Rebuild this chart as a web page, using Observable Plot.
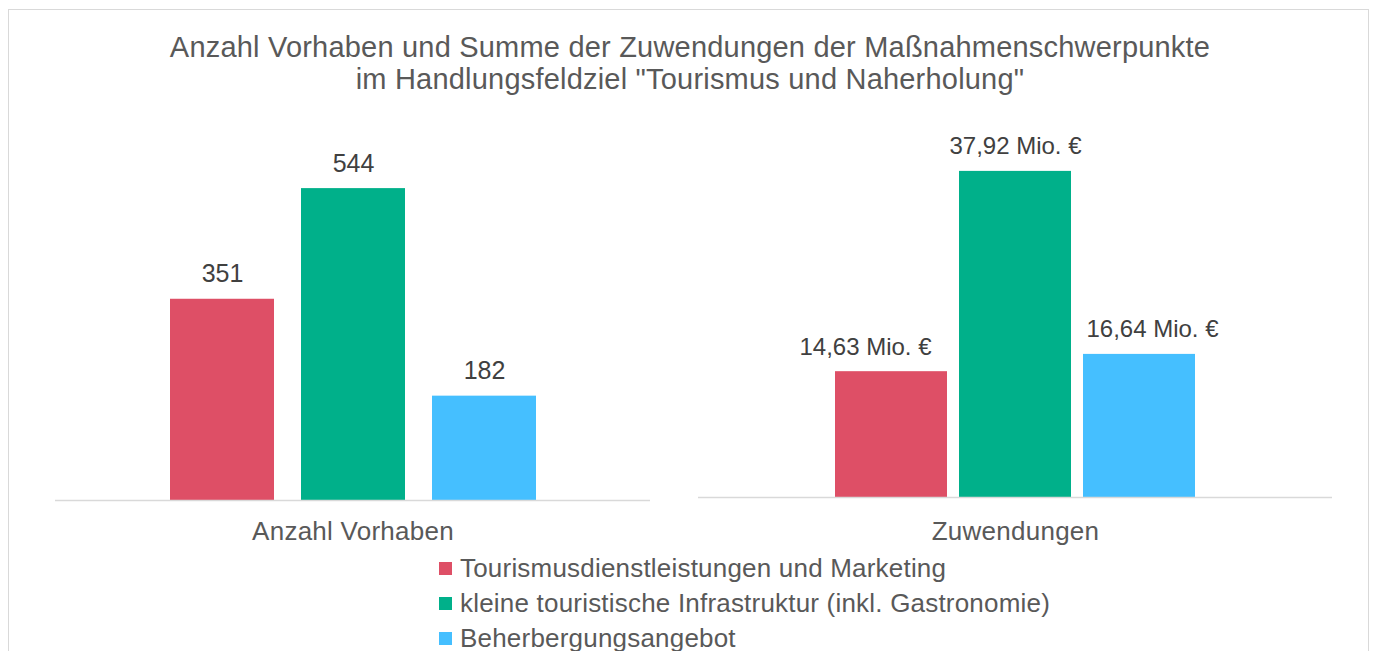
<!DOCTYPE html>
<html><head><meta charset="utf-8">
<script src="https://cdn.jsdelivr.net/npm/d3@7"></script>
<script src="https://cdn.jsdelivr.net/npm/@observablehq/plot@0.6"></script>
<style>
html,body{margin:0;padding:0;background:#fff;width:1376px;height:651px;overflow:hidden;font-family:"Liberation Sans",Arial,sans-serif;}
#frame{position:absolute;left:8px;top:9px;width:1361px;height:700px;border:1px solid #d9d9d9;box-sizing:border-box;}
#title{position:absolute;left:2px;top:31px;width:1376px;text-align:center;font-size:29px;line-height:32px;color:#595959;letter-spacing:0.2px;}
.panel{position:absolute;top:0;}
.legend-item{position:absolute;left:439px;height:35px;display:flex;align-items:center;font-size:26px;color:#595959;letter-spacing:0.2px;white-space:nowrap;}
.legend-item .sw{width:13px;height:13px;margin-right:8px;flex:none;}
</style>
</head><body>
<div id="frame"></div>
<div id="title">Anzahl Vorhaben und Summe der Zuwendungen der Maßnahmenschwerpunkte<br>im Handlungsfeldziel "Tourismus und Naherholung"</div>
<div id="left" class="panel" style="left:0px"></div>
<div id="right" class="panel" style="left:688px"></div>
<div id="legend"></div>
<script>
const series = ["Tourismusdienstleistungen und Marketing", "kleine touristische Infrastruktur (inkl. Gastronomie)", "Beherbergungsangebot"];
const colors = ["#de4f66", "#00b08a", "#45bfff"];
const panels = ["Anzahl Vorhaben", "Zuwendungen"];
const vorhaben = [351, 544, 182];
const zuwendungen = [14.63, 37.92, 16.64];

const dataL = series.map((s, i) => ({series: s, value: vorhaben[i]}));
const dataR = series.map((s, i) => ({series: s, value: zuwendungen[i]}));
const fmtEuro = v => v.toLocaleString("de-DE", {minimumFractionDigits: 2, maximumFractionDigits: 2}) + " Mio. €";

const baseStyle = {background: "transparent", fontFamily: "'Liberation Sans', Arial, sans-serif", overflow: "visible"};

const left = Plot.plot({
  width: 688, height: 560,
  marginLeft: 55, marginRight: 38, marginTop: 156, marginBottom: 60,
  x: {domain: series, axis: null, paddingInner: 0.209, paddingOuter: 0.867},
  y: {domain: [0, 600], axis: null},
  color: {domain: series, range: colors},
  style: baseStyle,
  marks: [
    Plot.barY(dataL, {x: "series", y: "value", fill: "series"}),
    Plot.ruleY([0], {stroke: "#d9d9d9", strokeWidth: 1.5}),
    Plot.text(dataL, {x: "series", y: "value", text: d => String(d.value), lineAnchor: "bottom", dy: -17, fill: "#404040", fontSize: 25}),
    Plot.text([panels[0]], {frameAnchor: "bottom", lineAnchor: "bottom", dy: 39, text: d => d, fill: "#595959", fontSize: 26})
  ]
});

const right = Plot.plot({
  width: 688, height: 560,
  marginLeft: 10, marginRight: 44, marginTop: 153, marginBottom: 63,
  x: {domain: series, axis: null, paddingInner: 0.1, paddingOuter: 1.096},
  y: {domain: [0, 40], axis: null},
  color: {domain: series, range: colors},
  style: baseStyle,
  marks: [
    Plot.barY(dataR, {x: "series", y: "value", fill: "series"}),
    Plot.ruleY([0], {stroke: "#d9d9d9", strokeWidth: 1.5}),
    Plot.text(dataR, {filter: d => d.series === series[0], x: "series", y: "value", text: d => fmtEuro(d.value), lineAnchor: "bottom", dy: -17, dx: -26, fill: "#404040", fontSize: 24}),
    Plot.text(dataR, {filter: d => d.series === series[1], x: "series", y: "value", text: d => fmtEuro(d.value), lineAnchor: "bottom", dy: -17, fill: "#404040", fontSize: 24}),
    Plot.text(dataR, {filter: d => d.series === series[2], x: "series", y: "value", text: d => fmtEuro(d.value), lineAnchor: "bottom", dy: -17, dx: 13, fill: "#404040", fontSize: 24}),
    Plot.text([panels[1]], {frameAnchor: "bottom", lineAnchor: "bottom", dy: 42, text: d => d, fill: "#595959", fontSize: 26})
  ]
});

document.getElementById("left").appendChild(left);
document.getElementById("right").appendChild(right);

// slight letter spacing on the category labels (last text group of each panel)
for (const svg of [left, right]) {
  const groups = svg.querySelectorAll('g[aria-label="text"]');
  const g = groups[groups.length - 1];
  if (g) g.style.letterSpacing = "0.25px";
}

const legend = document.getElementById("legend");
series.forEach((s, i) => {
  const item = document.createElement("div");
  item.className = "legend-item";
  item.style.top = (550.5 + i * 35) + "px";
  const sw = document.createElement("span");
  sw.className = "sw";
  sw.style.background = colors[i];
  const tx = document.createElement("span");
  tx.textContent = s;
  item.appendChild(sw);
  item.appendChild(tx);
  legend.appendChild(item);
});
</script>
</body></html>
